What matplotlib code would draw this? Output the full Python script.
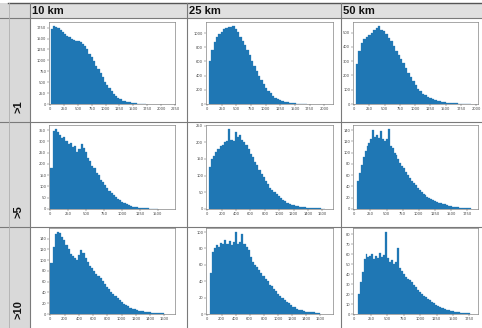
import matplotlib
matplotlib.use("Agg")
import matplotlib.pyplot as plt
from matplotlib.ticker import MultipleLocator
from matplotlib.patches import Rectangle
from matplotlib.lines import Line2D
import numpy as np

# ---------------- data ----------------
col_labels = ["10 km", "25 km", "50 km"]
row_labels = [">1", ">5", ">10"]

# histogram bin starts and widths (data units)
bin_start = [[10, 30, 30], [0, 20, 40], [0, 30, 50]]
bin_width = [[40, 40, 40], [30, 30, 30], [30, 30, 30]]

h_1_10 = [1720, 1790, 1760, 1740, 1700, 1650, 1600, 1570, 1540, 1500, 1470, 1440, 1450, 1420,
          1380, 1340, 1260, 1150, 1070, 980, 880, 800, 700, 610, 500, 430, 360, 300, 240, 180,
          140, 110, 80, 60, 45, 35, 25, 20, 15, 10, 7, 5, 3]
h_1_25 = [600, 760, 870, 940, 990, 1020, 1050, 1070, 1090, 1080, 1100, 1050, 1010, 950, 890,
          830, 760, 690, 610, 530, 460, 400, 335, 280, 230, 190, 150, 115, 90, 70, 55, 42, 32,
          24, 17, 12, 9, 6, 4, 3, 2, 1]
h_1_50 = [280, 370, 430, 455, 470, 485, 500, 520, 535, 548, 520, 510, 490, 465, 440, 410, 375,
          345, 315, 285, 255, 220, 190, 160, 130, 105, 88, 72, 60, 50, 42, 35, 28, 24, 20, 16,
          13, 10, 8, 7, 5, 4, 3, 3, 2, 2, 1]
h_5_10 = [180, 345, 355, 340, 330, 315, 320, 300, 290, 295, 275, 280, 255, 265, 290, 270, 255,
          225, 215, 190, 180, 160, 150, 130, 118, 105, 92, 82, 70, 62, 52, 45, 38, 32, 26, 20,
          16, 13, 10, 9, 7, 6, 5, 4, 3, 3, 2, 2, 1, 1]
h_5_25 = [125, 150, 160, 172, 180, 188, 192, 200, 205, 240, 208, 205, 232, 215, 222, 208, 200,
          192, 180, 165, 155, 142, 132, 118, 105, 95, 84, 74, 64, 56, 50, 44, 38, 32, 27, 23,
          19, 16, 13, 11, 9, 8, 7, 6, 5, 4, 4, 3, 3, 2, 2, 2, 1, 1]
h_5_50 = [50, 64, 78, 92, 103, 112, 118, 124, 140, 128, 132, 126, 138, 125, 120, 124, 142, 112,
          108, 100, 95, 88, 82, 77, 72, 66, 60, 55, 50, 46, 42, 37, 34, 30, 26, 24, 21, 19, 17,
          16, 14, 13, 11, 10, 9, 8, 7, 6, 5, 4, 4, 3, 3, 2, 2, 2, 1, 1, 1]
h_10_10 = [95, 125, 148, 152, 150, 142, 138, 128, 120, 112, 108, 104, 100, 110, 118, 114, 104,
           96, 90, 86, 80, 74, 70, 66, 62, 56, 51, 46, 41, 38, 34, 30, 26, 23, 19, 16, 14, 12,
           10, 9, 8, 6, 5, 5, 4, 3, 3, 2, 2, 2, 1, 1, 1]
h_10_25 = [50, 76, 80, 84, 82, 87, 86, 90, 85, 89, 84, 88, 100, 86, 88, 98, 86, 82, 78, 70, 64,
           60, 57, 54, 50, 46, 43, 40, 36, 34, 31, 28, 25, 22, 19, 17, 15, 13, 11, 9, 8, 6, 5,
           5, 4, 3, 3, 2, 2, 2, 1, 1]
h_10_50 = [20, 32, 42, 55, 60, 57, 58, 60, 55, 58, 56, 61, 57, 59, 82, 56, 52, 54, 50, 52, 66,
           46, 43, 40, 37, 35, 34, 32, 29, 27, 24, 22, 20, 18, 17, 15, 14, 12, 11, 9, 8, 7, 6, 6,
           5, 4, 4, 3, 3, 2, 2, 2, 1, 1, 1, 1, 1]

heights = [[h_1_10, h_1_25, h_1_50],
           [h_5_10, h_5_25, h_5_50],
           [h_10_10, h_10_25, h_10_50]]

# axis settings
x_max = [[2250, 2150, 2030], [1740, 1750, 1920], [1750, 1780, 1880]]
x_step = [[250, 250, 250], [250, 200, 250], [200, 200, 250]]
y_step = [[250, 200, 100], [50, 50, 20], [20, 20, 10]]

# ---------------- layout ----------------
W, H = 482, 328
fig = plt.figure(figsize=(W / 100, H / 100), dpi=100)
fig.patch.set_facecolor("white")

def fx(px):
    return px / W

def fy(py):
    return 1 - py / H

# table background
fig.patches.append(Rectangle((fx(0), fy(18)), fx(482), 15 / H, transform=fig.transFigure,
                             facecolor="#e0e0e0", edgecolor="none", zorder=0))
fig.patches.append(Rectangle((fx(0), fy(328)), fx(30), 325 / H, transform=fig.transFigure,
                             facecolor="#d9d9d9", edgecolor="none", zorder=0))

def hline(y, x0=0, x1=482, c="#7a7a7a", lw=0.8):
    fig.lines.append(Line2D([fx(x0), fx(x1)], [fy(y), fy(y)], transform=fig.transFigure,
                            color=c, lw=lw, zorder=1))

def vline(x, y0=3, y1=328, c="#7a7a7a", lw=0.8):
    fig.lines.append(Line2D([fx(x), fx(x)], [fy(y0), fy(y1)], transform=fig.transFigure,
                            color=c, lw=lw, zorder=1))

hline(3, 8, 482, c="#555555", lw=1.0)
hline(18)
hline(122)
hline(227)
vline(9, c="#b0b0b0", lw=0.6)
vline(30)
vline(187)
vline(341)

col_div = [30, 187, 341]
row_bottoms = [122, 227, 328]

for j, lab in enumerate(col_labels):
    fig.text(fx(col_div[j] + 2), fy(11), lab, fontsize=8, fontweight="bold",
             family=["Liberation Sans", "DejaVu Sans"], ha="left", va="center", color="#111111")

for i, lab in enumerate(row_labels):
    fig.text(fx(18), fy(row_bottoms[i] - 9), lab, fontsize=8, fontweight="bold",
             family=["Liberation Sans", "DejaVu Sans"], rotation=90,
             ha="center", va="bottom", color="#111111")

ax_lr = [(49, 175), (206, 333), (353, 478)]
ax_tb = [(22, 104), (125, 209), (228, 314)]

for i in range(3):
    for j in range(3):
        l, r = ax_lr[j]
        t, b = ax_tb[i]
        ax = fig.add_axes([fx(l), fy(b), (r - l) / W, (b - t) / H])
        vals = np.array(heights[i][j], dtype=float)
        starts = bin_start[i][j] + bin_width[i][j] * np.arange(len(vals))
        ax.bar(starts, vals, width=bin_width[i][j], align="edge", color="#1f77b4",
               edgecolor="#1f77b4", linewidth=0.2)
        ax.set_xlim(-20, x_max[i][j])
        ax.set_ylim(0, max(vals) * 1.05)
        ax.xaxis.set_major_locator(MultipleLocator(x_step[i][j]))
        ax.yaxis.set_major_locator(MultipleLocator(y_step[i][j]))
        ax.tick_params(labelsize=2.6, length=1.2, width=0.3, pad=0.8, colors="#444444")
        for s in ax.spines.values():
            s.set_linewidth(0.4)
            s.set_color("#666666")

fig.savefig("out.png", dpi=100)
